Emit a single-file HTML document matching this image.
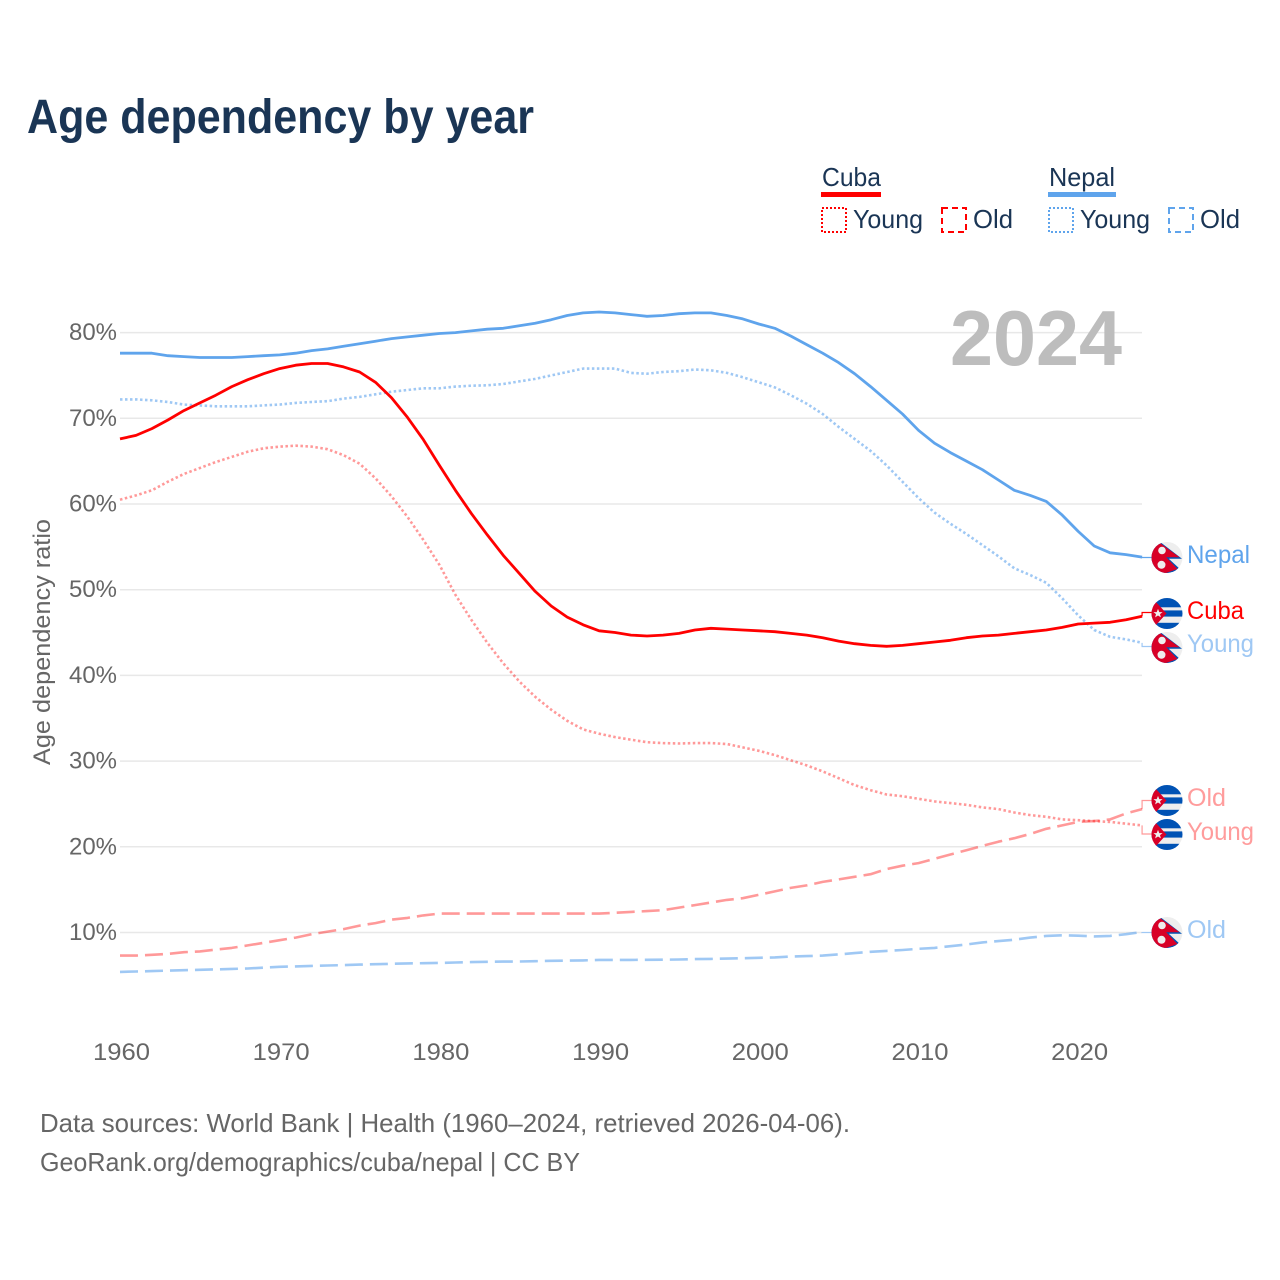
<!DOCTYPE html>
<html lang="en">
<head>
<meta charset="utf-8">
<title>Age dependency by year</title>
<style>
html,body{margin:0;padding:0;background:#fff;}
svg{display:block;}
text{font-family:"Liberation Sans",sans-serif;}
</style>
</head>
<body>
<svg id="chart" xmlns="http://www.w3.org/2000/svg" width="1280" height="1280" viewBox="0 0 1280 1280">
  <defs>
    <clipPath id="flag-clip"><circle cx="0" cy="0" r="15.5"/></clipPath>
    <g id="flag-cuba">
      <g clip-path="url(#flag-clip)">
        <rect x="-16" y="-16" width="32" height="32" fill="#eeeeee"/>
        <rect x="-16" y="-16" width="32" height="9.8" fill="#0052b4"/>
        <rect x="-16" y="-3.1" width="32" height="6.2" fill="#0052b4"/>
        <rect x="-16" y="9.3" width="32" height="7" fill="#0052b4"/>
        <polygon points="-16,-15 -11,-11.5 -0.5,0 -11,11.5 -16,15" fill="#d80027"/>
        <polygon points="-9,-4.6 -7.7,-1.4 -4.4,-1.4 -7,0.6 -6.1,3.9 -9,2 -11.9,3.9 -11,0.6 -13.6,-1.4 -10.3,-1.4" fill="#eeeeee"/>
      </g>
    </g>
    <g id="flag-nepal">
      <g clip-path="url(#flag-clip)">
        <rect x="-16" y="-16" width="32" height="32" fill="#eeeeee"/>
        <polygon points="-16,-16 -7.5,-16 15,1.2 1.8,1.2 14,12.5 -1,16 -16,16" fill="#0052b4"/>
        <polygon points="-16,-16 -9,-16 12.5,-0.2 -0.8,-0.2 10.5,11.5 -2.5,16 -16,16" fill="#d80027"/>
        <circle cx="-5" cy="-7" r="3.8" fill="#eeeeee"/>
        <circle cx="-5.5" cy="7.3" r="4" fill="#eeeeee"/>
      </g>
    </g>
  </defs>

  <rect x="0" y="0" width="1280" height="1280" fill="#ffffff"/>

  <text x="27" y="133" font-size="48" font-weight="700" fill="#1a3555" textLength="507" lengthAdjust="spacingAndGlyphs">Age dependency by year</text>

  <g>
    <g>
      <text x="822" y="186" font-size="26" fill="#1a3555" textLength="59" lengthAdjust="spacingAndGlyphs">Cuba</text>
      <rect x="821" y="192" width="60" height="5" fill="#ff0000"/>
    </g>
    <g>
      <rect x="822" y="208" width="24" height="24" fill="none" stroke="#ff0000" stroke-width="2" stroke-dasharray="2 2"/>
      <text x="853" y="228" font-size="26" fill="#1a3555" textLength="70" lengthAdjust="spacingAndGlyphs">Young</text>
    </g>
    <g>
      <rect x="942" y="208" width="24" height="24" fill="none" stroke="#ff0000" stroke-width="2" stroke-dasharray="6 4"/>
      <text x="973" y="228" font-size="26" fill="#1a3555" textLength="40" lengthAdjust="spacingAndGlyphs">Old</text>
    </g>
    <g>
      <text x="1049" y="186" font-size="26" fill="#1a3555" textLength="66" lengthAdjust="spacingAndGlyphs">Nepal</text>
      <rect x="1048" y="192" width="68" height="5" fill="#5fa4ec"/>
    </g>
    <g>
      <rect x="1049" y="208" width="24" height="24" fill="none" stroke="#5fa4ec" stroke-width="2" stroke-dasharray="2 2"/>
      <text x="1080" y="228" font-size="26" fill="#1a3555" textLength="70" lengthAdjust="spacingAndGlyphs">Young</text>
    </g>
    <g>
      <rect x="1169" y="208" width="24" height="24" fill="none" stroke="#5fa4ec" stroke-width="2" stroke-dasharray="6 4"/>
      <text x="1200" y="228" font-size="26" fill="#1a3555" textLength="40" lengthAdjust="spacingAndGlyphs">Old</text>
    </g>
  </g>

  <g id="grid"></g>
  <g id="y-ticks"></g>
  <g id="x-ticks"></g>

  <text transform="translate(50,642) rotate(-90)" text-anchor="middle" font-size="24" fill="#666666" textLength="246" lengthAdjust="spacingAndGlyphs">Age dependency ratio</text>

  <text x="950" y="365" font-size="78" font-weight="700" fill="#bdbdbd" textLength="172" lengthAdjust="spacingAndGlyphs">2024</text>

  <g id="series"></g>
  <g id="leaders"></g>

  <g>
    <use href="#flag-nepal" x="1167" y="557.5"/>
    <text x="1187" y="563" font-size="25" fill="#5fa4ec" textLength="63" lengthAdjust="spacingAndGlyphs">Nepal</text>
    <use href="#flag-cuba" x="1167" y="613.5"/>
    <text x="1187" y="619" font-size="25" fill="#ff0000" textLength="57" lengthAdjust="spacingAndGlyphs">Cuba</text>
    <use href="#flag-nepal" x="1167" y="647.5"/>
    <text x="1187" y="652" font-size="25" fill="#9fc8f4" textLength="67" lengthAdjust="spacingAndGlyphs">Young</text>
    <use href="#flag-cuba" x="1167" y="800.5"/>
    <text x="1187" y="806" font-size="25" fill="#ff9c9c" textLength="39" lengthAdjust="spacingAndGlyphs">Old</text>
    <use href="#flag-cuba" x="1167" y="834.5"/>
    <text x="1187" y="840" font-size="25" fill="#ff9c9c" textLength="67" lengthAdjust="spacingAndGlyphs">Young</text>
    <use href="#flag-nepal" x="1167" y="932.5"/>
    <text x="1187" y="938" font-size="25" fill="#9fc8f4" textLength="39" lengthAdjust="spacingAndGlyphs">Old</text>
  </g>

  <text x="40" y="1132" font-size="26" fill="#666666" textLength="810" lengthAdjust="spacingAndGlyphs">Data sources: World Bank | Health (1960–2024, retrieved 2026-04-06).</text>
  <text x="40" y="1171" font-size="26" fill="#666666" textLength="540" lengthAdjust="spacingAndGlyphs">GeoRank.org/demographics/cuba/nepal | CC BY</text>
</svg>

<script>
const years = [
  1960,1961,1962,1963,1964,1965,1966,1967,1968,1969,
  1970,1971,1972,1973,1974,1975,1976,1977,1978,1979,
  1980,1981,1982,1983,1984,1985,1986,1987,1988,1989,
  1990,1991,1992,1993,1994,1995,1996,1997,1998,1999,
  2000,2001,2002,2003,2004,2005,2006,2007,2008,2009,
  2010,2011,2012,2013,2014,2015,2016,2017,2018,2019,
  2020,2021,2022,2023,2024
];
const cubaTotal = [
  67.6,68.0,68.8,69.8,70.9,71.8,72.7,73.7,74.5,75.2,
  75.8,76.2,76.4,76.4,76.0,75.4,74.2,72.4,70.1,67.5,
  64.5,61.6,58.9,56.4,54.0,51.9,49.8,48.1,46.8,45.9,
  45.2,45.0,44.7,44.6,44.7,44.9,45.3,45.5,45.4,45.3,
  45.2,45.1,44.9,44.7,44.4,44.0,43.7,43.5,43.4,43.5,
  43.7,43.9,44.1,44.4,44.6,44.7,44.9,45.1,45.3,45.6,
  46.0,46.1,46.2,46.5,46.9
];
const cubaYoung = [
  60.5,61.0,61.6,62.6,63.5,64.2,64.9,65.5,66.1,66.5,
  66.7,66.8,66.7,66.4,65.7,64.7,63.0,60.9,58.5,55.8,
  52.9,49.4,46.5,43.8,41.4,39.3,37.5,36.0,34.7,33.7,
  33.2,32.8,32.5,32.2,32.1,32.05,32.1,32.1,32.0,31.6,
  31.2,30.7,30.1,29.5,28.8,28.0,27.2,26.6,26.1,25.9,
  25.6,25.3,25.1,24.9,24.6,24.4,24.0,23.7,23.5,23.2,
  23.1,23.0,22.9,22.7,22.5
];
const cubaOld = [
  7.3,7.3,7.4,7.5,7.7,7.8,8.0,8.2,8.5,8.8,
  9.1,9.4,9.8,10.1,10.4,10.8,11.1,11.5,11.7,12.0,
  12.2,12.2,12.2,12.2,12.2,12.2,12.2,12.2,12.2,12.2,
  12.2,12.3,12.4,12.5,12.6,12.9,13.2,13.5,13.8,14.0,
  14.4,14.8,15.2,15.5,15.9,16.2,16.5,16.8,17.4,17.8,
  18.1,18.6,19.1,19.6,20.1,20.6,21.0,21.5,22.1,22.5,
  22.9,23.0,23.2,23.9,24.4
];
const nepalTotal = [
  77.6,77.6,77.6,77.3,77.2,77.1,77.1,77.1,77.2,77.3,
  77.4,77.6,77.9,78.1,78.4,78.7,79.0,79.3,79.5,79.7,
  79.9,80.0,80.2,80.4,80.5,80.8,81.1,81.5,82.0,82.3,
  82.4,82.3,82.1,81.9,82.0,82.2,82.3,82.3,82.0,81.6,
  81.0,80.5,79.6,78.6,77.6,76.5,75.2,73.7,72.1,70.5,
  68.6,67.1,66.0,65.0,64.0,62.8,61.6,61.0,60.3,58.7,
  56.8,55.1,54.3,54.1,53.8
];
const nepalYoung = [
  72.2,72.2,72.1,71.9,71.6,71.5,71.4,71.4,71.4,71.5,
  71.6,71.8,71.9,72.0,72.3,72.5,72.8,73.1,73.3,73.5,
  73.5,73.7,73.8,73.85,74.0,74.3,74.6,75.0,75.4,75.8,
  75.8,75.8,75.3,75.2,75.4,75.5,75.7,75.6,75.3,74.8,
  74.2,73.6,72.7,71.7,70.5,69.0,67.6,66.2,64.5,62.6,
  60.7,59.0,57.7,56.5,55.2,53.9,52.5,51.7,50.8,49.0,
  47.0,45.3,44.5,44.2,43.8
];
const nepalOld = [
  5.4,5.45,5.5,5.55,5.6,5.65,5.7,5.75,5.8,5.9,
  6.0,6.05,6.1,6.15,6.2,6.25,6.3,6.35,6.4,6.42,
  6.45,6.5,6.55,6.58,6.6,6.62,6.65,6.7,6.72,6.75,
  6.8,6.8,6.8,6.82,6.83,6.85,6.9,6.92,6.95,7.0,
  7.05,7.1,7.2,7.25,7.3,7.45,7.6,7.75,7.85,7.96,
  8.1,8.2,8.4,8.6,8.85,9.0,9.16,9.4,9.6,9.67,
  9.63,9.55,9.6,9.8,10.06
];
const yTickValues = [10,20,30,40,50,60,70,80];
const yTickLabels = ["10%","20%","30%","40%","50%","60%","70%","80%"];
const xTickValues = [1960,1970,1980,1990,2000,2010,2020];
const xTickLabels = ["1960","1970","1980","1990","2000","2010","2020"];

const SVG_NS = "http://www.w3.org/2000/svg";
function xScale(year) { return 120 + (year - 1960) * 15.97; }
function yScale(value) { return 932.5 - (value - 10) * 8.57; }

const gridLayer = document.getElementById("grid");
const yTickLayer = document.getElementById("y-ticks");
yTickValues.forEach(function (tick, i) {
  const line = document.createElementNS(SVG_NS, "line");
  line.setAttribute("x1", 120);
  line.setAttribute("x2", 1142);
  line.setAttribute("y1", yScale(tick));
  line.setAttribute("y2", yScale(tick));
  line.setAttribute("stroke", "#e8e8e8");
  line.setAttribute("stroke-width", "1.5");
  
  
  gridLayer.appendChild(line);

  const label = document.createElementNS(SVG_NS, "text");
  label.setAttribute("x", 117);
  label.setAttribute("y", yScale(tick) + 7.5);
  label.setAttribute("text-anchor", "end");
  label.setAttribute("font-size", "24");
  label.setAttribute("fill", "#666666");
  label.setAttribute("textLength", "48");
  label.setAttribute("lengthAdjust", "spacingAndGlyphs");
  label.textContent = yTickLabels[i];
  
  
  yTickLayer.appendChild(label);
});

const xTickLayer = document.getElementById("x-ticks");
xTickValues.forEach(function (tick, i) {
  const label = document.createElementNS(SVG_NS, "text");
  label.setAttribute("x", xScale(tick) + 1.5);
  label.setAttribute("y", 1060);
  label.setAttribute("text-anchor", "middle");
  label.setAttribute("font-size", "24");
  label.setAttribute("fill", "#666666");
  label.setAttribute("textLength", "57");
  label.setAttribute("lengthAdjust", "spacingAndGlyphs");
  label.textContent = xTickLabels[i];
  
  
  xTickLayer.appendChild(label);
});

function drawSeries(values, name, color, width, dash, opacity, flagY) {
  const points = values.map(function (v, i) {
    return xScale(years[i]).toFixed(1) + "," + yScale(v).toFixed(1);
  }).join(" ");
  const line = document.createElementNS(SVG_NS, "polyline");
  line.setAttribute("points", points);
  line.setAttribute("fill", "none");
  line.setAttribute("stroke", color);
  line.setAttribute("stroke-width", width);
  line.setAttribute("stroke-opacity", opacity);
  line.setAttribute("stroke-linejoin", "round");
  if (dash) { line.setAttribute("stroke-dasharray", dash); }
  
  
  document.getElementById("series").appendChild(line);

  const lastX = xScale(years[years.length - 1]);
  const lastY = yScale(values[values.length - 1]);
  const leader = document.createElementNS(SVG_NS, "polyline");
  leader.setAttribute("points", lastX + "," + lastY + " " + lastX + "," + flagY + " 1152," + flagY);
  leader.setAttribute("fill", "none");
  leader.setAttribute("stroke", color);
  leader.setAttribute("stroke-width", "1.2");
  leader.setAttribute("stroke-opacity", opacity);
  
  
  document.getElementById("leaders").appendChild(leader);
}

drawSeries(nepalOld, "line-nepal-old", "#5fa4ec", 2.6, "18 7", 0.6, 932.5);
drawSeries(cubaOld, "line-cuba-old", "#ff0000", 2.6, "18 7", 0.4, 800.5);
drawSeries(nepalYoung, "line-nepal-young", "#5fa4ec", 2.6, "2.5 2.5", 0.6, 646.5);
drawSeries(cubaYoung, "line-cuba-young", "#ff0000", 2.6, "2.5 2.5", 0.4, 834);
drawSeries(nepalTotal, "line-nepal-total", "#5fa4ec", 2.8, "", 1, 557.5);
drawSeries(cubaTotal, "line-cuba-total", "#ff0000", 2.8, "", 1, 612.5);
</script>
</body>
</html>
